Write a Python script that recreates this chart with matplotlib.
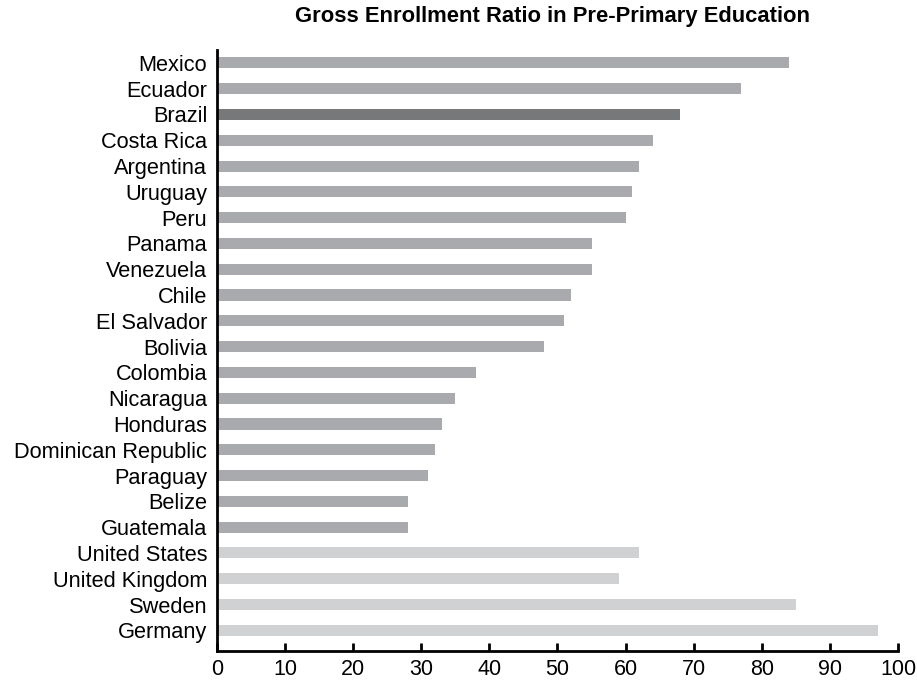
import matplotlib.pyplot as plt

plt.rcParams['font.family'] = ['Liberation Sans', 'DejaVu Sans']

countries = ['Mexico', 'Ecuador', 'Brazil', 'Costa Rica', 'Argentina', 'Uruguay',
             'Peru', 'Panama', 'Venezuela', 'Chile', 'El Salvador', 'Bolivia',
             'Colombia', 'Nicaragua', 'Honduras', 'Dominican Republic', 'Paraguay',
             'Belize', 'Guatemala', 'United States', 'United Kingdom', 'Sweden',
             'Germany']
ratios = [84, 77, 68, 64, 62, 61, 60, 55, 55, 52, 51, 48, 38, 35, 33, 32, 31,
          28, 28, 62, 59, 85, 97]
groups = ['latam'] * 19 + ['developed'] * 4
highlight = 'Brazil'

group_colors = {'latam': '#a9aaad', 'developed': '#d0d1d3'}
colors = [('#77787a' if c == highlight else group_colors[g])
          for c, g in zip(countries, groups)]

fig = plt.figure(figsize=(9.17, 6.81), dpi=100)
ax = fig.add_axes([0.2366, 0.0441, 0.7427, 0.8825])

ypos = list(range(len(countries)))
ax.barh(ypos, ratios, height=0.43, color=colors)

ax.set_ylim(len(countries) - 1 + 0.8, -0.5)
ax.set_xlim(0, 100)
ax.set_yticks(ypos)
ax.set_yticklabels(countries, fontsize=15.7)
ax.set_xticks(range(0, 101, 10))
ax.tick_params(axis='x', direction='in', length=6, width=2, labelsize=15.5, pad=6)
ax.tick_params(axis='y', length=0, pad=7)

for side in ['top', 'right']:
    ax.spines[side].set_visible(False)
for side in ['left', 'bottom']:
    ax.spines[side].set_linewidth(2)

fig.text(0.603, 0.976, 'Gross Enrollment Ratio in Pre-Primary Education',
         ha='center', va='center', fontsize=15.8, fontweight='bold')

fig.savefig('out.png', dpi=100)
